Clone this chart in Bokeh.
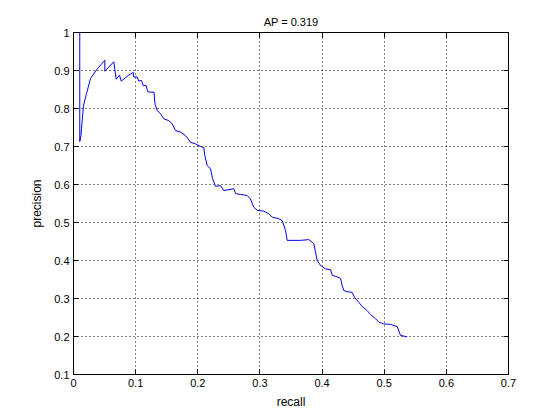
from bokeh.plotting import figure
from bokeh.models import Range1d, LinearAxis, FixedTicker
from bokeh.embed import file_html
from bokeh.resources import INLINE

title_text = "AP = 0.319"
x_label = "recall"
y_label = "precision"

recall = [0.0101, 0.0101, 0.0121, 0.0129, 0.0161, 0.0209, 0.0274, 0.0386, 0.0504, 0.0504,
          0.0649, 0.0687, 0.0740, 0.0768, 0.0890, 0.0961, 0.0970, 0.1025, 0.1051, 0.1094,
          0.1122, 0.1167, 0.1196, 0.1239, 0.1295, 0.1312, 0.1347, 0.1400, 0.1453, 0.1534,
          0.1588, 0.1641, 0.1722, 0.1775, 0.1830, 0.1883, 0.1963, 0.2044, 0.2097, 0.2113,
          0.2152, 0.2205, 0.2237, 0.2285, 0.2366, 0.2419, 0.2580, 0.2607, 0.2687, 0.2795,
          0.2848, 0.2902, 0.2956, 0.3062, 0.3143, 0.3198, 0.3304, 0.3359, 0.3412, 0.3439,
          0.3653, 0.3787, 0.3841, 0.3867, 0.3894, 0.3922, 0.3975, 0.4055, 0.4136, 0.4163,
          0.4244, 0.4297, 0.4324, 0.4350, 0.4405, 0.4485, 0.4522, 0.4591, 0.4646, 0.4726,
          0.4780, 0.4860, 0.4913, 0.4994, 0.5101, 0.5209, 0.5262, 0.5370]
precision = [1.000, 0.713, 0.729, 0.747, 0.808, 0.839, 0.879, 0.905, 0.927, 0.898,
             0.923, 0.877, 0.888, 0.872, 0.888, 0.895, 0.883, 0.883, 0.872, 0.874,
             0.860, 0.861, 0.844, 0.843, 0.843, 0.811, 0.795, 0.786, 0.773, 0.768,
             0.760, 0.742, 0.738, 0.732, 0.724, 0.711, 0.707, 0.700, 0.697, 0.676,
             0.650, 0.641, 0.616, 0.595, 0.597, 0.584, 0.589, 0.576, 0.574, 0.571,
             0.562, 0.540, 0.532, 0.530, 0.523, 0.514, 0.510, 0.505, 0.479, 0.453,
             0.453, 0.455, 0.448, 0.444, 0.422, 0.400, 0.387, 0.378, 0.376, 0.361,
             0.357, 0.353, 0.334, 0.321, 0.318, 0.316, 0.303, 0.290, 0.279, 0.268,
             0.258, 0.247, 0.238, 0.233, 0.232, 0.226, 0.203, 0.199]

x_ticks = [0, 0.1, 0.2, 0.3, 0.4, 0.5, 0.6, 0.7]
x_tick_labels = ["0", "0.1", "0.2", "0.3", "0.4", "0.5", "0.6", "0.7"]
y_ticks = [0.1, 0.2, 0.3, 0.4, 0.5, 0.6, 0.7, 0.8, 0.9, 1.0]
y_tick_labels = ["0.1", "0.2", "0.3", "0.4", "0.5", "0.6", "0.7", "0.8", "0.9", "1"]

FONT = "Liberation Sans"

p = figure(frame_width=435, frame_height=342,
           output_backend="svg", toolbar_location=None,
           x_range=Range1d(0, 0.7), y_range=Range1d(0.1, 1.0),
           min_border_left=73, min_border_right=50, min_border_top=32, min_border_bottom=44)
p.background_fill_color = "white"
p.border_fill_color = "white"
p.outline_line_color = "black"
p.outline_line_width = 1

p.title.text = title_text
p.title.align = "center"
p.title.text_font = FONT
p.title.text_font_size = "11px"
p.title.text_font_style = "normal"
p.title.text_color = "black"
p.title.offset = 0
p.title.standoff = 10

p.line(recall, precision, line_color="#0000e6", line_width=1)

for ax, ticks, labels, lab in ((p.xaxis[0], x_ticks, x_tick_labels, x_label),
                               (p.yaxis[0], y_ticks, y_tick_labels, y_label)):
    ax.ticker = FixedTicker(ticks=ticks)
    ax.major_label_overrides = {t: l for t, l in zip(ticks, labels)}
    ax.major_label_text_font = FONT
    ax.major_label_text_font_size = "11px"
    ax.major_label_text_color = "black"
    ax.axis_label = lab
    ax.axis_label_text_font = FONT
    ax.axis_label_text_font_size = "12px"
    ax.axis_label_text_font_style = "normal"
    ax.axis_label_text_color = "black"
    ax.major_tick_in = 5
    ax.major_tick_out = 0
    ax.minor_tick_line_color = None
    ax.axis_line_color = "black"
    ax.major_tick_line_color = "black"
    ax.major_label_standoff = 4
p.xaxis[0].axis_label_standoff = 5
p.yaxis[0].axis_label_standoff = 7

p.xgrid.ticker = FixedTicker(ticks=x_ticks)
p.ygrid.ticker = FixedTicker(ticks=y_ticks)
for g in (p.xgrid[0], p.ygrid[0]):
    g.grid_line_color = "black"
    g.grid_line_dash = "1 3"
    g.grid_line_width = 1
    g.grid_line_alpha = 1.0

ax_r = LinearAxis(ticker=FixedTicker(ticks=y_ticks), major_tick_in=5, major_tick_out=0,
                  minor_tick_line_color=None, axis_line_color="black", major_label_standoff=0,
                  major_label_overrides={t: "" for t in y_ticks})
p.add_layout(ax_r, "right")
ax_t = LinearAxis(ticker=FixedTicker(ticks=x_ticks), major_tick_in=5, major_tick_out=0,
                  minor_tick_line_color=None, axis_line_color="black", major_label_standoff=5,
                  major_label_overrides={t: "" for t in x_ticks})
p.add_layout(ax_t, "above")

out = file_html(p, INLINE)
open("out.html", "w").write(out)
